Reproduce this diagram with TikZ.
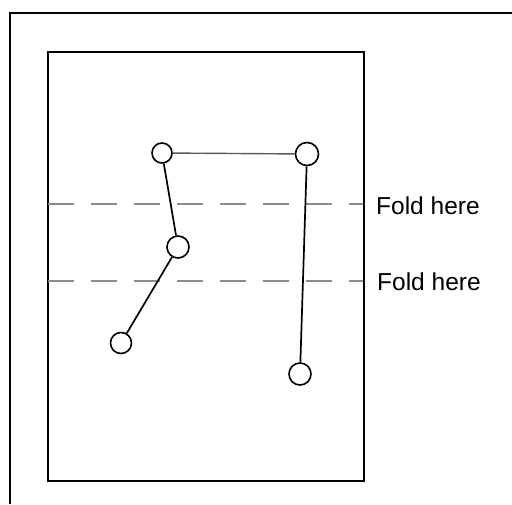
\documentclass[tikz,border=0pt]{standalone}
\usepackage{fontspec}
\setmainfont{Liberation Sans}
\begin{document}
\begin{tikzpicture}[x=1pt,y=-1pt,
  frame/.style={draw=black,line width=2pt},
  fold/.style={draw=black!45,line width=1.6pt,dash pattern=on 26pt off 17pt},
  hinge/.style={circle,draw=black,line width=1.6pt,fill=white,inner sep=0pt},
  rod/.style={draw=black,line width=1.7pt},
  label/.style={anchor=west,inner sep=0pt,font=\fontsize{24.5}{28}\selectfont}]
\useasboundingbox (0,0) rectangle (512,504);
% outer frame
\coordinate (ot) at (512,13);
\coordinate (oc) at (9.5,13);
\coordinate (ob) at (9.5,504);
\draw[frame] (ot) -- (oc) -- (ob);
% sheet
\draw[frame] (47.5,51.5) rectangle (363.5,481);
% fold lines
\coordinate (f1a) at (48,204);
\coordinate (f1b) at (363,204);
\coordinate (f2a) at (48,281);
\coordinate (f2b) at (363,281);
\draw[fold] (f1a) -- (f1b);
\draw[fold] (f2a) -- (f2b);
\node[label] (l1) at (376,206) {Fold here};
\node[label] (l2) at (377,282) {Fold here};
% hinges
\node[hinge,minimum size=20pt] (A) at (162,153) {};
\node[hinge,minimum size=23pt] (B) at (307,154) {};
\node[hinge,minimum size=22pt] (C) at (178,247) {};
\node[hinge,minimum size=21pt] (D) at (121,343) {};
\node[hinge,minimum size=22pt] (E) at (300,374) {};
% rods
\draw[rod,draw=black!65,line width=1.4pt] (A) -- (B);
\draw[rod] (A) -- (C);
\draw[rod] (C) -- (D);
\draw[rod] (B) -- (E);
\end{tikzpicture}
\end{document}
